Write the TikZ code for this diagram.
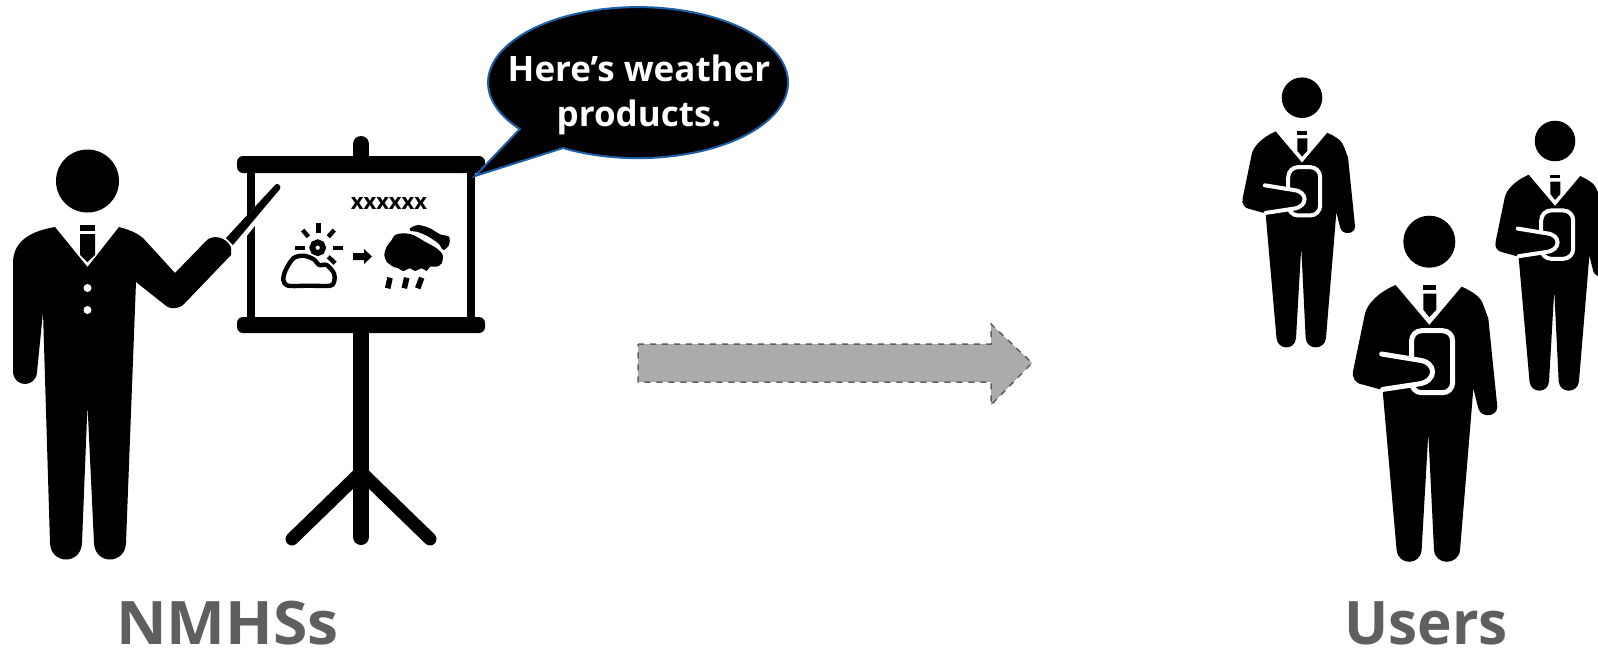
\documentclass[tikz,border=0pt]{standalone}
\usepackage{fontspec}
\setmainfont{Open Sans}
\usepackage{tikz}
\definecolor{labelgray}{HTML}{5F5F5F}
\definecolor{flowgray}{HTML}{ABABAB}
\definecolor{bubbleblue}{HTML}{1F5FA8}

\tikzset{
  user/.pic={
    \fill (0,0) circle (26);
    % body, arm and legs
    \fill (-33.7,43.3) -- (0,83.3) -- (32.3,45) .. controls (44,50) and (52,56) .. (54,63.3)
      -- (59,76.7) -- (68,165) .. controls (68,175) and (52,177) .. (49,166.7)
      -- (44,146.7) -- (42.3,168.3) -- (30.7,308.3) .. controls (29,324) and (6,324) .. (4.7,308.3)
      -- (-1,191.7) -- (-7.7,308.3) .. controls (-9,324) and (-31,324) .. (-32.7,308.3)
      -- (-46.7,148.3) -- (-66,143) .. controls (-74,142) and (-78,136) .. (-76,128.3)
      -- (-64.3,71.7) .. controls (-62,62) and (-50,50) .. (-33.7,43.3) -- cycle;
    % tie
    \fill (-6,43) rectangle (7,48);
    \fill (-6,52) -- (7,52) -- (7,68) -- (0,75.5) -- (-6,68) -- cycle;
    % tablet and hand
    \draw[white, fill=black, rounded corners=5] (-17.7,89) rectangle (23.3,151);
    \draw[white, fill=black, line cap=round] (-47.7,112.3) -- (-11,118.3)
      .. controls (8,120) and (8,140) .. (-11,142.3) -- (-46.7,147.7);
  },
  titletext/.style={font=\fontsize{30}{36}\selectfont\bfseries, text=labelgray, anchor=base, inner sep=0pt, transform shape},
  flowarrow/.style={draw=labelgray, fill=flowgray, dashed, line width=.75pt},
  easelbar/.style={line cap=round, line width=8pt},
  easelleg/.style={line cap=round, line width=6.5pt},
  icon/.style={line width=2.2pt}
}

\begin{document}
\begin{tikzpicture}[x=.5pt, y=-.5pt]
\useasboundingbox (0,0) rectangle (1598,654);
\clip (0,0) rectangle (1598,654);

% easel
\fill[rounded corners=3pt] (237,156) rectangle (485,173);
\fill[rounded corners=3pt] (237,317) rectangle (485,333);
\fill (247,165) rectangle (255,325);
\fill (467,165) rectangle (475,325);
\draw[easelbar] (361,144) -- (361,160);
\draw[easelbar] (361,330) -- (361,537);
\draw[easelleg] (361,472) -- (292,539);
\draw[easelleg] (361,472) -- (430,539);

% pointer
\draw[white, line width=6pt] (232,245) -- (278,187);
\fill (226,238) -- (275.5,184.5) .. controls (278,182.5) and (281.5,186) .. (280,189) -- (233,245) -- cycle;

% presenter
\fill (87.5,181) circle (31.5);
\fill (55,227) -- (87.5,267) -- (119,227) .. controls (130,230) and (137,233) .. (143,238)
  -- (175,273) -- (207,240) .. controls (213,235) and (225,236) .. (231,247)
  -- (231,255) -- (185,303) .. controls (180,309) and (170,310) .. (165,305)
  -- (136,282) -- (126,543) .. controls (125,565) and (95,565) .. (94,543)
  -- (87.5,405) -- (82,543) .. controls (81,565) and (51,565) .. (50,543)
  -- (43,312) -- (37,372) .. controls (36,388) and (14,388) .. (13,372)
  -- (13,263) .. controls (13,245) and (25,232) .. (55,227) -- cycle;
\fill (80,225) rectangle (95,231);
\fill (80,234) -- (95,234) -- (95,255) -- (87.5,262) -- (80,255) -- cycle;
\fill[white] (87.5,288) circle (4);
\fill[white] (87.5,310) circle (4);

% board content
\node[font=\fontsize{11}{13}\selectfont\bfseries, inner sep=0pt] (boardtext) at (389,203) {xxxxxx};
\draw[line width=2.9pt] (317.7,247.7) circle (5.4);
\foreach \a/\b/\c/\d in {318.3/223.3/318.3/233.3, 302.7/230/308.3/236.7, 334.3/230/328.3/236.7,
                         295/247.7/305/247.7, 333.3/247.7/343.3/247.7, 328.3/256.7/335/263.3}
  \draw[icon] (\a,\b) -- (\c,\d);
\draw[icon, fill=white] plot[smooth cycle, tension=.5] coordinates {(283.3,280) (285.7,270) (293.3,258.3)
  (303.3,255.7) (313.3,259) (319.3,265) (326.7,265) (334,273.3) (334.3,281) (330,285.7) (308.3,285.7) (288.3,285.7)};
\fill (353,253) -- (364,253) -- (364,249) -- (372,256.5) -- (364,264) -- (364,260) -- (353,260) -- cycle;
\fill plot[smooth cycle, tension=.5] coordinates {(384.3,255) (386.7,246.7) (391.7,240) (395,235) (403.3,233.3)
  (413.3,235) (425,241.7) (436.7,248.3) (442.7,255) (441.7,263.3) (436.7,266.7) (430,266.7) (426.7,271)
  (421.7,268.3) (415,271) (410,268.3) (403.3,271) (398.3,268.3) (393.3,266.7) (386.7,261.7)};
\fill plot[smooth cycle, tension=.5] coordinates {(410,228.3) (418.3,225) (430,228.3) (440,234.3) (449,236.7)
  (449,245) (443.3,250) (438.3,243.3) (426.7,235.7) (416.7,231.7) (411,231)};
\foreach \a/\b in {390/387.7, 406.7/404.3, 421.7/417.7}
  \draw[line width=2.8pt] (\a,277.7) -- (\b,288.3);

% speech bubble
\draw[fill=black, draw=bubbleblue, line width=1pt] (475,176) -- (563,148)
  arc[start angle=120, end angle=-218, x radius=150, y radius=75.5] -- cycle;
\node[font=\fontsize{17.5}{22.5}\selectfont\bfseries, text=white, align=center, inner sep=0pt] (bubbletext) at (639,95) {Here’s weather\\products.};

% flow
\draw[flowarrow] (638,344) -- (991,344) -- (991,324) -- (1032,363) -- (991,405) -- (991,382) -- (638,382) -- cycle;

% users
\pic[scale=.78, line width=2pt] at (1302,97.7) {user};
\pic[scale=.78, line width=2pt] at (1555,141) {user};
\pic[line width=2.5pt] at (1429.3,241.7) {user};

% titles
\node[titletext, xscale=1.04] (nmhs) at (227.5,644) {NMHSs};
\node[titletext, xscale=.975] (users) at (1426,644) {Users};
\end{tikzpicture}
\end{document}
